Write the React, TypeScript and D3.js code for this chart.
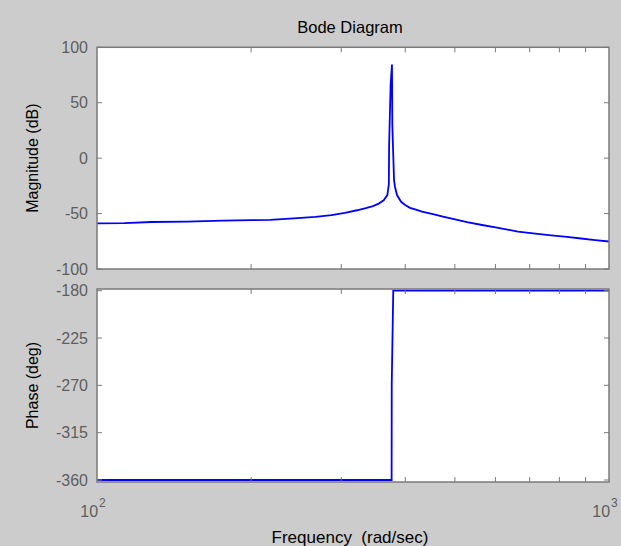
import React from "react";
import * as d3 from "d3";

const magFreq = [100, 113, 128, 150, 176, 200, 218, 242, 267, 287, 305, 322, 335, 346, 355, 363, 369, 371.5, 372, 374.5, 376.8, 377.4, 380.3, 382, 385.4, 392.6, 399.8, 408.6, 419.6, 431.3, 453, 474, 498, 528, 565, 604, 626, 664, 711, 771, 828, 882, 940, 1000];
const magDb = [-58.8, -58.6, -57.6, -57.2, -56.3, -55.9, -55.6, -54.3, -52.9, -51.4, -49.3, -47.0, -45.0, -43.2, -41.0, -38.0, -33.3, -24, 11, 66, 84.4, 30, -19.8, -26, -33.3, -39.4, -42.3, -44.8, -46.4, -48.2, -50.5, -52.8, -55, -57.7, -60.3, -62.7, -64, -66.2, -67.9, -69.6, -71.1, -72.5, -73.9, -75.2];
const phaseFreq = [100, 376.2, 376.4, 379, 1000];
const phaseDeg = [-360, -360, -269, -180, -180];
const magTicks = [100, 50, 0, -50, -100];
const phaseTicks = [-180, -225, -270, -315, -360];
const minorFreqs = [200, 300, 400, 500, 600, 700, 800, 900];
const decadeExps = [2, 3];

const W = 621, H = 546;
const L = 97, R = 609;
const magTop = 47.3, magBot = 269;
const phTop = 289, phBot = 482;
const axisCol = "#7a7a7a";
const tickTextCol = "#5e5e5e";
const font = "'Liberation Sans', Arial, sans-serif";

export default function App() {
  const x = d3.scaleLog().domain([100, 1000]).range([L, R]);
  const yMag = d3.scaleLinear().domain([-100, 100]).range([magBot, magTop]);
  const yPh = d3.scaleLinear().domain([-361.9, -178.4]).range([phBot, phTop]);

  const magLine = d3.line<number>().x((_, i) => x(magFreq[i])).y((d) => yMag(d))(magDb) || "";
  const phLine = d3.line<number>().x((_, i) => x(phaseFreq[i])).y((d) => yPh(d))(phaseDeg) || "";

  const tl = 5;
  const axes = (top: number, bot: number, yTicks: number[], y: (v: number) => number, clipId: string, path: string) => (
    <g>
      <rect x={L} y={top} width={R - L} height={bot - top} fill="#ffffff" />
      <defs>
        <clipPath id={clipId}>
          <rect x={L} y={top} width={R - L} height={bot - top} />
        </clipPath>
      </defs>
      <path d={path} fill="none" stroke="#0000ff" strokeWidth={1.8} clipPath={`url(#${clipId})`} />
      {minorFreqs.map((f) => (
        <g key={f}>
          <line x1={x(f)} x2={x(f)} y1={bot} y2={bot - tl} stroke={axisCol} />
          <line x1={x(f)} x2={x(f)} y1={top} y2={top + tl} stroke={axisCol} />
        </g>
      ))}
      {yTicks.map((t) => (
        <g key={t}>
          <line x1={L} x2={L + tl} y1={y(t)} y2={y(t)} stroke={axisCol} />
          <line x1={R} x2={R - tl} y1={y(t)} y2={y(t)} stroke={axisCol} />
          <text x={88} y={y(t)} dy="0.36em" textAnchor="end" fontSize={16} fill={tickTextCol} fontFamily={font}>
            {t}
          </text>
        </g>
      ))}
      <rect x={L} y={top} width={R - L} height={bot - top} fill="none" stroke={axisCol} strokeWidth={1.5} />
    </g>
  );

  return (
    <svg width={W} height={H} style={{ position: "absolute", left: 0, top: 0, display: "block" }}>
      <rect x={0} y={0} width={W} height={H} fill="#cccccc" />
      <text x={350} y={33} textAnchor="middle" fontSize={16.5} fill="#000" fontFamily={font}>
        Bode Diagram
      </text>
      {axes(magTop, magBot, magTicks, yMag, "clipMag", magLine)}
      {axes(phTop, phBot, phaseTicks, yPh, "clipPh", phLine)}
      {decadeExps.map((e) => {
        const px = x(Math.pow(10, e));
        return (
          <text key={e} x={px - 4} y={517} textAnchor="middle" fontSize={16} fill={tickTextCol} fontFamily={font}>
            10
            <tspan dx={1} dy={-10} fontSize={12}>{e}</tspan>
          </text>
        );
      })}
      <text x={350} y={543} textAnchor="middle" fontSize={17} fill="#000" fontFamily={font}>
        {"Frequency\u00A0\u00A0(rad/sec)"}
      </text>
      <text transform={`translate(38,${(magTop + magBot) / 2}) rotate(-90)`} textAnchor="middle" fontSize={16} fill="#000" fontFamily={font}>
        Magnitude (dB)
      </text>
      <text transform={`translate(38,${(phTop + phBot) / 2}) rotate(-90)`} textAnchor="middle" fontSize={16} fill="#000" fontFamily={font}>
        Phase (deg)
      </text>
    </svg>
  );
}
